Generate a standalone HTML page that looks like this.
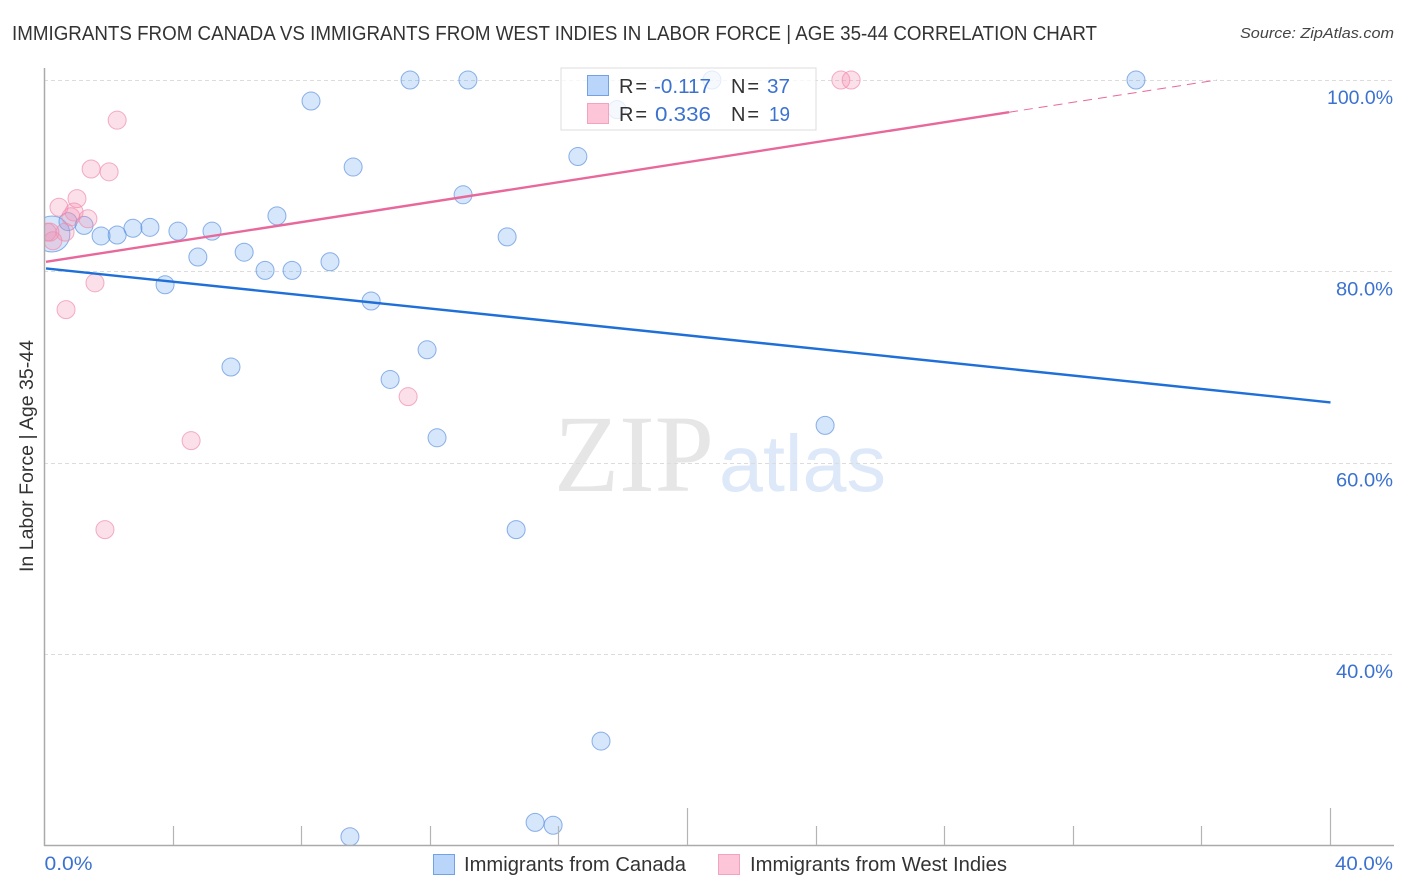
<!DOCTYPE html>
<html lang="en">
<head>
<meta charset="utf-8">
<title>Immigrants from Canada vs Immigrants from West Indies in Labor Force | Age 35-44 Correlation Chart</title>
<style>
html,body{margin:0;padding:0;background:#fff;}
svg{display:block;font-family:"Liberation Sans",sans-serif;}
</style>
</head>
<body>
<svg id="chart" xmlns="http://www.w3.org/2000/svg" width="1406" height="892" viewBox="0 0 1406 892">
  <defs>
    <clipPath id="plot-clip"><rect x="45" y="60" width="1350" height="785"/></clipPath>
  </defs>
  <text x="12" y="40" font-size="20" fill="#333" textLength="1085" lengthAdjust="spacingAndGlyphs">IMMIGRANTS FROM CANADA VS IMMIGRANTS FROM WEST INDIES IN LABOR FORCE | AGE 35-44 CORRELATION CHART</text>
  <text x="1394" y="38" font-size="15" font-style="italic" fill="#444" text-anchor="end" textLength="154" lengthAdjust="spacingAndGlyphs">Source: ZipAtlas.com</text>

  <g>
    <text x="554" y="491" font-family="'Liberation Serif',serif" font-size="110" fill="#e6e6e6" textLength="160" lengthAdjust="spacingAndGlyphs">ZIP</text>
    <text x="719" y="491" font-size="80" fill="#dde8f9" textLength="167" lengthAdjust="spacingAndGlyphs">atlas</text>
  </g>

  <g id="grid"></g>
  <g id="points" clip-path="url(#plot-clip)"></g>
  <g id="trends"></g>
  <g id="axes"></g>
  <g id="labels"></g>

  <text transform="translate(33,456) rotate(-90)" font-size="19" fill="#333" text-anchor="middle" textLength="232" lengthAdjust="spacingAndGlyphs">In Labor Force | Age 35-44</text>

  <g>
    <rect x="561" y="68" width="255" height="62" fill="#fff" fill-opacity="0.76" stroke="#dcdcdc" stroke-width="1"/>
    <rect x="587.5" y="75.5" width="21" height="20" fill="#b9d5f9" stroke="#72a2e4"/>
    <rect x="587.5" y="103.5" width="21" height="20" fill="#fcc5d8" stroke="#f3a3bf"/>
    <text x="619" y="93" font-size="20" fill="#333" textLength="28" lengthAdjust="spacing">R =</text>
    <text x="654" y="93" font-size="20" fill="#3b72d0" textLength="57" lengthAdjust="spacingAndGlyphs">-0.117</text>
    <text x="731" y="93" font-size="20" fill="#333" textLength="28" lengthAdjust="spacing">N =</text>
    <text x="767" y="93" font-size="20" fill="#3b72d0" textLength="23" lengthAdjust="spacingAndGlyphs">37</text>
    <text x="619" y="121" font-size="20" fill="#333" textLength="28" lengthAdjust="spacing">R =</text>
    <text x="655" y="121" font-size="20" fill="#3b72d0" textLength="56" lengthAdjust="spacingAndGlyphs">0.336</text>
    <text x="731" y="121" font-size="20" fill="#333" textLength="28" lengthAdjust="spacing">N =</text>
    <text x="769" y="121" font-size="20" fill="#3b72d0" textLength="21" lengthAdjust="spacingAndGlyphs">19</text>
  </g>

  <g>
    <rect x="433.5" y="854.5" width="21" height="20" fill="#b9d5f9" stroke="#72a2e4"/>
    <text x="464" y="871" font-size="20" fill="#333" textLength="222" lengthAdjust="spacingAndGlyphs">Immigrants from Canada</text>
    <rect x="718.5" y="854.5" width="21" height="20" fill="#fcc5d8" stroke="#f3a3bf"/>
    <text x="750" y="871" font-size="20" fill="#333" textLength="257" lengthAdjust="spacingAndGlyphs">Immigrants from West Indies</text>
  </g>
</svg>
<script>
const canadaX = [11.37,13.17,20.76,33.95,8.29,17.81,9.60,16.59,13.02,7.23,1.23,0.73,0.23,1.76,2.26,2.75,3.28,4.15,5.21,4.77,6.21,6.86,7.70,8.88,14.39,3.75,10.16,11.90,5.80,10.75,12.21,24.28,14.67,17.31,15.26,15.82,9.50];
const canadaY = [100,100,100,100,97.8,96.9,90.9,92.0,88.0,85.8,84.8,85.2,83.9,83.7,83.8,84.5,84.6,84.2,84.2,81.5,82.0,80.1,80.1,81.0,83.6,78.6,76.9,71.8,70.0,68.7,62.6,63.9,53.0,30.9,22.4,22.1,20.9];
const canadaWeight = [1,1,1,1,1,1,1,1,1,1,1,1,4,1,1,1,1,1,1,1,1,1,1,1,1,1,1,1,1,1,1,1,1,1,1,1,1];
const indiesX = [2.26,1.45,2.01,1.01,0.45,0.92,0.82,1.35,0.64,0.17,0.08,0.26,1.57,0.67,11.31,4.56,1.88,24.77,25.09];
const indiesY = [95.8,90.7,90.4,87.6,86.7,86.2,85.7,85.5,84.1,84.1,84.1,83.2,78.8,76.0,66.9,62.3,53.0,100,100];
const yTickValues = [100,80,60,40];
const yTickLabels = ['100.0%','80.0%','60.0%','40.0%'];
const xTickValues = [0,4,8,12,16,20,24,28,32,36,40];
const xMajorTicks = [20,40];
const xEndValues = [0,40];
const xEndLabels = ['0.0%','40.0%'];
const canadaTrend = [80.3,66.3];
const indiesTrend = [81.0,0.521];
const indiesSolidEnd = 30;

const SVGNS = 'http://www.w3.org/2000/svg';
const xAxis = v => 44.5 + v * 32.15;
const yAxis = v => 80 + (100 - v) * 9.567;
const make = (tag, parent, attrs) => {
  const el = document.createElementNS(SVGNS, tag);
  for (const k in attrs) el.setAttribute(k, attrs[k]);
  parent.appendChild(el);
  return el;
};
const grid = document.getElementById('grid');
const points = document.getElementById('points');
const trends = document.getElementById('trends');
const axes = document.getElementById('axes');
const labels = document.getElementById('labels');

yTickValues.forEach((v, i) => {
  const y = Math.round(yAxis(v)) + 0.5;
  const line = make('line', grid, {x1: 44, x2: 1394, y1: y, y2: y, stroke: '#dcdcdc', 'stroke-width': 1, 'stroke-dasharray': '4 3'});
  
  
  const t = make('text', labels, {x: 1393, y: yAxis(v) + 24, 'font-size': 19, fill: '#3b72d0', 'text-anchor': 'end', textLength: i === 0 ? 66 : 57, lengthAdjust: 'spacingAndGlyphs'});
  t.textContent = yTickLabels[i];
  
  
});

canadaX.forEach((v, i) => {
  const c = make('circle', points, {cx: xAxis(v), cy: yAxis(canadaY[i]), r: 9 * Math.sqrt(canadaWeight[i]), fill: '#5b9bf0', 'fill-opacity': 0.25, stroke: '#5c92e0', 'stroke-opacity': 0.7, 'stroke-width': 1});
  
  
});
indiesX.forEach((v, i) => {
  const c = make('circle', points, {cx: xAxis(v), cy: yAxis(indiesY[i]), r: 9, fill: '#f48fb1', 'fill-opacity': 0.28, stroke: '#f08bad', 'stroke-opacity': 0.7, 'stroke-width': 1});
  
  
});

const canadaLine = make('line', trends, {x1: xAxis(0) + 1.5, y1: yAxis(canadaTrend[0]), x2: xAxis(40), y2: yAxis(canadaTrend[1]), stroke: '#1f6fd8', 'stroke-width': 2.4});


const indiesAt = x => indiesTrend[0] + indiesTrend[1] * x;
const indiesLine = make('line', trends, {x1: xAxis(0) + 1.5, y1: yAxis(indiesAt(0)), x2: xAxis(indiesSolidEnd), y2: yAxis(indiesAt(indiesSolidEnd)), stroke: '#e8689b', 'stroke-width': 2.4});


const dashEnd = (100 - indiesTrend[0]) / indiesTrend[1];
const indiesDash = make('line', trends, {x1: xAxis(indiesSolidEnd), y1: yAxis(indiesAt(indiesSolidEnd)), x2: xAxis(dashEnd), y2: yAxis(indiesAt(dashEnd)), stroke: '#e8689b', 'stroke-width': 1, 'stroke-dasharray': '9 6'});



const yLine = make('line', axes, {x1: 44.5, x2: 44.5, y1: 68, y2: 846, stroke: '#aaa', 'stroke-width': 1.5});


const xLine = make('line', axes, {x1: 44, x2: 1394, y1: 845.5, y2: 845.5, stroke: '#aaa', 'stroke-width': 1.5});


xTickValues.forEach(v => {
  if (v === 0) return;
  const x = Math.round(xAxis(v) - 0.5) + 0.5;
  const tick = make('line', axes, {x1: x, x2: x, y1: xMajorTicks.includes(v) ? 808 : 826, y2: 845, stroke: '#b4b4b4', 'stroke-width': 1.2});
  
  
});
xEndValues.forEach((v, i) => {
  const first = i === 0;
  const t = make('text', labels, {x: first ? xAxis(v) : 1393, y: 870, 'font-size': 19, fill: '#3b72d0', 'text-anchor': first ? 'start' : 'end', textLength: first ? 48 : 58, lengthAdjust: 'spacingAndGlyphs'});
  t.textContent = xEndLabels[i];
  
  
});
</script>
</body>
</html>
